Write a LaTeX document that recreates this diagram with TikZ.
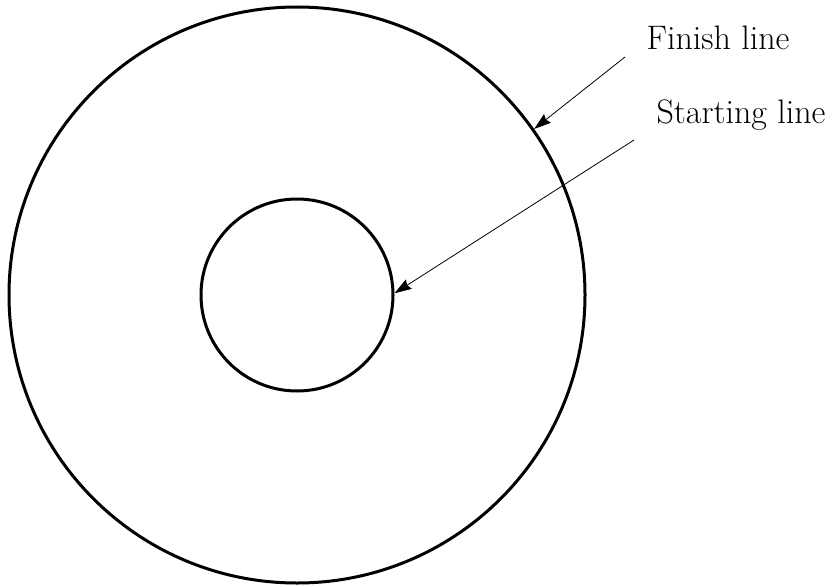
\documentclass[tikz,border=0pt]{standalone}
\usepackage{fontspec}
\usepackage{tikz}
\usetikzlibrary{arrows.meta,positioning}

\begin{document}
\begin{tikzpicture}[
    x=1pt, y=-1pt,
    ring/.style={draw, circle, line width=3pt, inner sep=0pt},
    lbl/.style={font=\fontsize{34}{36}\selectfont, inner sep=0pt},
    pointer/.style={-{Stealth[length=17pt, width=11pt, inset=2pt]}, line width=0.8pt}
]
\useasboundingbox (0,0) rectangle (832,586);

% --- Track: outer and inner circle ---
\node[ring, minimum size=576pt] (outer) at (297, 295) {};
\node[ring, minimum size=192pt] (inner) at (297, 295) {};

% --- Labels ---
\node[lbl] (finish) at (718, 38)  {Finish line};
\node[lbl] (start)  at (741, 115) {Starting line};

% Arrow tails
\coordinate (ftail) at (625, 57);
\coordinate (stail) at (634, 140);

% === Pointers ===
\draw[pointer] (ftail) -- (outer.35);
\draw[pointer] (stail) -- (inner.1);
\end{tikzpicture}
\end{document}
